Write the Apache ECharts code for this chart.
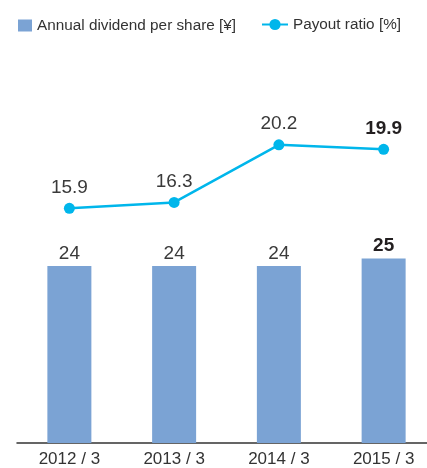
<!DOCTYPE html>
<html><head><meta charset="utf-8">
<script src="https://cdn.jsdelivr.net/npm/echarts@6/dist/echarts.min.js"></script>
<style>html,body{margin:0;padding:0;background:#fff;overflow:hidden}#c{width:436px;height:468px}</style>
</head><body><div id="c"></div>
<script>
const categories = ['2012 / 3', '2013 / 3', '2014 / 3', '2015 / 3'];
const dividend = [24, 24, 24, 25];
const payout = [15.9, 16.3, 20.2, 19.9];
const FONT = '"Liberation Sans", Arial, Helvetica, sans-serif';
const barColor = '#7ba3d4';
const lineColor = '#00b6eb';
const chart = echarts.init(document.getElementById('c'));
function lbl(i, v) { return i === 3 ? '{b|' + v + '}' : '{n|' + v + '}'; }
const rich = { n: { fontFamily: FONT, fontSize: 19, color: '#3a3a3a' }, b: { fontFamily: FONT, fontSize: 19, fontWeight: 'bold', color: '#231f20' } };
chart.setOption({
  animation: false,
  textStyle: { fontFamily: FONT },
  legend: [
    { left: 18, top: 18, padding: 0, itemWidth: 14, itemHeight: 12, data: [{ name: 'Annual dividend per share [¥]', icon: 'rect' }],
      textStyle: { fontFamily: FONT, fontSize: 15.3, color: '#333' } },
    { left: 261, top: 17, padding: 0, itemWidth: 26, itemHeight: 14, itemGap: 4, data: ['Payout ratio [%]'],
      textStyle: { fontFamily: FONT, fontSize: 15.3, color: '#333' } }
  ],
  grid: { left: 17, right: 0, top: 74, bottom: 23 },
  xAxis: {
    type: 'category', data: categories,
    axisLine: { lineStyle: { color: '#333', width: 1.5 } },
    axisTick: { show: false },
    axisLabel: { fontFamily: FONT, fontSize: 17, color: '#333', margin: 8 }
  },
  yAxis: [
    { type: 'value', min: 0, max: 50, show: false, splitLine: { show: false } },
    { type: 'value', min: 0, max: 25, show: false, splitLine: { show: false } }
  ],
  series: [
    { name: 'Annual dividend per share [¥]', type: 'bar', data: dividend, barWidth: 44, itemStyle: { color: barColor },
      label: { show: true, position: 'top', distance: 3, formatter: p => lbl(p.dataIndex, p.value), rich: rich } },
    { name: 'Payout ratio [%]', type: 'line', yAxisIndex: 1, data: payout, symbol: 'circle', symbolSize: 11,
      itemStyle: { color: lineColor }, lineStyle: { color: lineColor, width: 2.5 },
      label: { show: true, position: 'top', distance: 6, formatter: p => lbl(p.dataIndex, p.value), rich: rich } }
  ]
});
</script></body></html>
